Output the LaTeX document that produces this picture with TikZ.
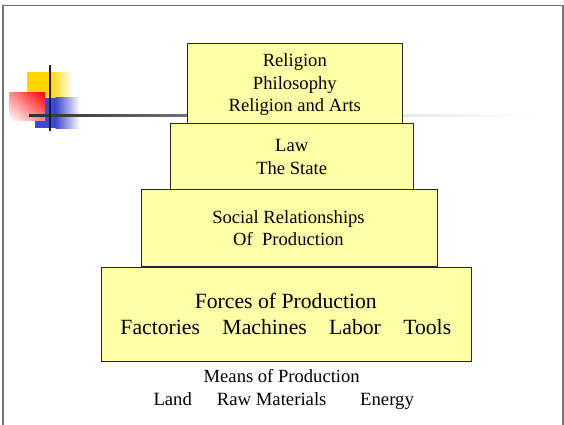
\documentclass[tikz,border=0pt]{standalone}
\usepackage{fontspec}
\setmainfont{Liberation Serif}
\usetikzlibrary{shadings}
\definecolor{tierfill}{RGB}{255,255,168}
\definecolor{decoyellow}{RGB}{255,214,0}
\definecolor{decoblue}{RGB}{64,72,208}
\begin{document}
\begin{tikzpicture}[x=1pt,y=-1pt,
  tier/.style={draw=black!85, line width=1pt, fill=tierfill, inner sep=0pt, anchor=north west},
  txt/.style={anchor=base, inner sep=0pt, font=\fontsize{18.6}{22}\selectfont},
  txtw/.style={anchor=base west, inner sep=0pt, font=\fontsize{18.7}{22}\selectfont},
  bigtxt/.style={anchor=base, inner sep=0pt, font=\fontsize{21.7}{26}\selectfont}]
\useasboundingbox (0,0) rectangle (564,424);
\fill[white] (0,0) rectangle (564,424);
% frame
\draw[line width=1.3pt, black!55] (3,426) -- (3,5.5) -- (563,5.5) -- (563,426);
% decoration
\fill[decoyellow] (27,72) rectangle (50.5,98);
\shade[left color=decoyellow, right color=white] (50,72) rectangle (73,98);
\fill[decoblue] (35,97.7) rectangle (56,128.3);
\shade[left color=decoblue, right color=white] (55.5,97.7) rectangle (80,128.3);
\shade[upper right=red, upper left=red!45!white, lower right=red!50!white, lower left=white] (9.3,92.7) rectangle (45,120);
\shade[left color=black!82, right color=black!55] (29,114) rectangle (188,116.6);
\shade[left color=black!9, right color=white] (402,114.3) rectangle (537,116.2);
\draw[line width=2pt, black!88] (50,65) -- (50,131);
% tiers
\node[tier, minimum width=215pt, minimum height=80pt] (religion) at (187.3,42.7) {};
\node[tier, minimum width=243.3pt, minimum height=66.6pt] (law) at (170,122.7) {};
\node[tier, minimum width=296pt, minimum height=77pt] (social) at (140.7,189.3) {};
\node[tier, minimum width=370.3pt, minimum height=94pt] (forces) at (100.7,266.7) {};
% texts
\node[txt] (t1a) at (294.8,66.7) {Religion};
\node[txt] (t1b) at (294.8,89.2) {Philosophy};
\node[txt] (t1c) at (294.8,111.7) {Religion and Arts};
\node[txt] (t2a) at (291.7,151.7) {Law};
\node[txt] (t2b) at (291.7,174) {The State};
\node[txt] (t3a) at (288.5,223.3) {Social Relationships};
\node[txt] (t3b) at (288.5,245) {Of\ \ Production};
\node[bigtxt] (t4a) at (285.8,308.3) {Forces of Production};
\node[bigtxt] (t4b) at (285.8,334) {Factories\hspace{22.5pt}Machines\hspace{22.3pt}Labor\hspace{22.3pt}Tools};
\node[txt] (m1) at (281.7,382.7) {Means of Production};
\node[txtw] (m2) at (153.3,405.3) {Land};
\node[txtw] (m3) at (216.7,405.3) {Raw Materials};
\node[txtw] (m4) at (360,405.3) {Energy};
\end{tikzpicture}
\end{document}
